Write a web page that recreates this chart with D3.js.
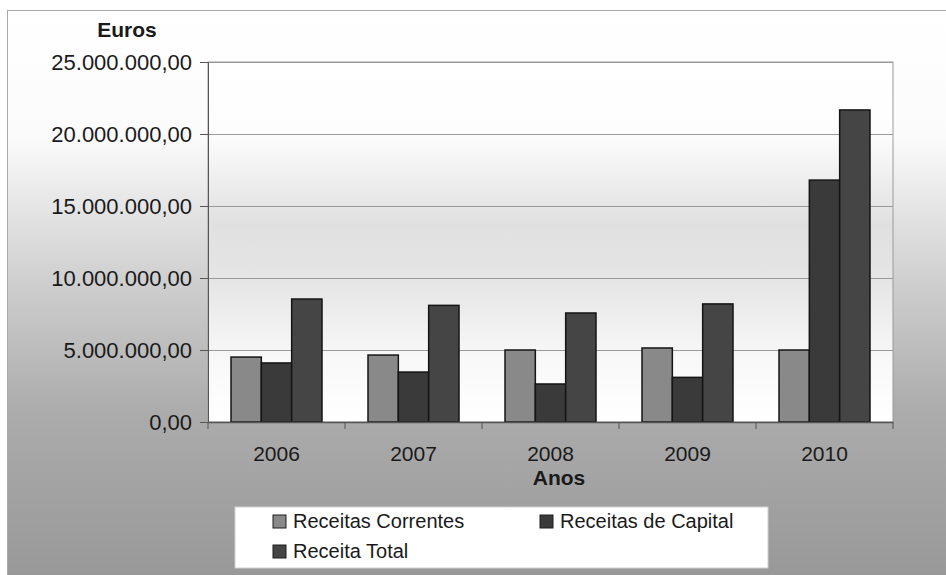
<!DOCTYPE html>
<html>
<head>
<meta charset="utf-8">
<script src="https://cdn.jsdelivr.net/npm/d3@7"></script>
<style>
  html, body { margin: 0; padding: 0; background: #fff; }
  svg { display: block; }
  text { font-family: "Liberation Sans", Arial, sans-serif; fill: #1a1a1a; }
</style>
</head>
<body>
<svg id="chart" width="946" height="575"></svg>
<script>
const years = ["2006", "2007", "2008", "2009", "2010"];
const seriesNames = ["Receitas Correntes", "Receitas de Capital", "Receita Total"];
const receitasCorrentes = [4510000, 4650000, 5000000, 5140000, 5000000];
const receitasCapital   = [4100000, 3470000, 2640000, 3100000, 16800000];
const receitaTotal      = [8540000, 8100000, 7570000, 8200000, 21670000];
const yTicks = [0, 5000000, 10000000, 15000000, 20000000, 25000000];
const seriesColors = ["#898989", "#3a3a3a", "#454545"];

const allSeries = [receitasCorrentes, receitasCapital, receitaTotal];

const svg = d3.select("#chart");
const defs = svg.append("defs");

// Outer background gradient
const bg = defs.append("linearGradient").attr("id", "bgGrad")
  .attr("x1", 0).attr("y1", 0).attr("x2", 0).attr("y2", 1);
[[0, "#ffffff"], [0.22, "#fbfbfb"], [0.35, "#e4e4e4"], [0.5, "#cbcbcb"], [0.7, "#acacac"], [1, "#989898"]]
  .forEach(([o, c]) => bg.append("stop").attr("offset", o).attr("stop-color", c));

// Plot area gradient
const pg = defs.append("linearGradient").attr("id", "plotGrad")
  .attr("x1", 0).attr("y1", 0).attr("x2", 0).attr("y2", 1);
[[0, "#ffffff"], [0.2, "#fdfdfd"], [0.45, "#e0e0e0"], [0.62, "#e6e6e6"], [0.82, "#f8f8f8"], [1, "#ffffff"]]
  .forEach(([o, c]) => pg.append("stop").attr("offset", o).attr("stop-color", c));

// Outer chart area
svg.append("rect").attr("x", 7.5).attr("y", 10.5).attr("width", 945).attr("height", 570)
  .attr("fill", "url(#bgGrad)").attr("stroke", "#a8a8a8").attr("stroke-width", 1);

const margin = { left: 208, top: 62, right: 893, bottom: 422 };

const x0 = d3.scaleBand().domain(years).range([margin.left, margin.right]).paddingInner(0).paddingOuter(0);
const groupWidth = 91;
const x1 = d3.scaleBand().domain(seriesNames).range([0, groupWidth]).padding(0);
const y = d3.scaleLinear().domain([0, 25000000]).range([margin.bottom, margin.top]);

// Plot area
svg.append("rect")
  .attr("x", margin.left).attr("y", margin.top)
  .attr("width", margin.right - margin.left).attr("height", margin.bottom - margin.top)
  .attr("fill", "url(#plotGrad)").attr("stroke", "#9a9a9a").attr("stroke-width", 1);

// Gridlines
svg.append("g").selectAll("line").data(yTicks.filter(d => d > 0)).join("line")
  .attr("x1", margin.left).attr("x2", margin.right)
  .attr("y1", d => Math.round(y(d)) + 0.5).attr("y2", d => Math.round(y(d)) + 0.5)
  .attr("stroke", "#9a9a9a").attr("stroke-width", 1);

// Bars
const groups = svg.append("g").selectAll("g").data(years).join("g")
  .attr("transform", d => `translate(${x0(d) + (x0.bandwidth() - groupWidth) / 2},0)`);
groups.selectAll("rect").data((d, i) => seriesNames.map((s, j) => ({ s, j, v: allSeries[j][i] }))).join("rect")
  .attr("x", d => x1(d.s))
  .attr("y", d => y(d.v))
  .attr("width", x1.bandwidth())
  .attr("height", d => y(0) - y(d.v))
  .attr("fill", d => seriesColors[d.j])
  .attr("stroke", "#151515").attr("stroke-width", 1.5);

// Y axis
const locale = d3.formatLocale({ decimal: ",", thousands: ".", grouping: [3], currency: ["", " €"] });
const yFmt = locale.format(",.2f");
const yAxis = d3.axisLeft(y).tickValues(yTicks).tickFormat(yFmt).tickSize(8).tickPadding(8);
const yg = svg.append("g").attr("transform", `translate(${margin.left},0)`).call(yAxis);
yg.select(".domain").attr("stroke", "#555");
yg.selectAll(".tick line").attr("stroke", "#555");
yg.selectAll("text").attr("font-size", "22px").attr("fill", "#1a1a1a")
  .attr("font-family", '"Liberation Sans", Arial, sans-serif');

// X axis
const xAxis = d3.axisBottom(x0).tickSize(0).tickPadding(24);
const xg = svg.append("g").attr("transform", `translate(0,${margin.bottom})`).call(xAxis);
xg.select(".domain").attr("stroke", "#555").attr("stroke-width", 1.5);
xg.selectAll("text").attr("font-size", "21px").attr("fill", "#1a1a1a")
  .attr("font-family", '"Liberation Sans", Arial, sans-serif');
// category separator ticks
xg.append("g").selectAll("line").data(years.concat(["end"])).join("line")
  .attr("x1", (d, i) => (i < years.length ? x0(d) : margin.right))
  .attr("x2", (d, i) => (i < years.length ? x0(d) : margin.right))
  .attr("y1", 0).attr("y2", 7).attr("stroke", "#555");

// Axis titles
svg.append("text").attr("x", 127).attr("y", 37).attr("text-anchor", "middle")
  .attr("font-size", "21px").attr("font-weight", "bold").text("Euros");
svg.append("text").attr("x", 559).attr("y", 485).attr("text-anchor", "middle")
  .attr("font-size", "21px").attr("font-weight", "bold").text("Anos");

// Legend
const lg = svg.append("g");
lg.append("rect").attr("x", 235).attr("y", 507).attr("width", 533).attr("height", 61)
  .attr("fill", "#ffffff").attr("stroke", "#cfcfcf");
const legendPos = [[273, 528], [540, 528], [273, 558]];
seriesNames.forEach((s, i) => {
  const [lx, ly] = legendPos[i];
  lg.append("rect").attr("x", lx).attr("y", ly - 13).attr("width", 13).attr("height", 13)
    .attr("fill", seriesColors[i]).attr("stroke", "#1e1e1e").attr("stroke-width", 1);
  lg.append("text").attr("x", lx + 20).attr("y", ly).attr("font-size", "20px").text(s);
});
</script>
</body>
</html>
